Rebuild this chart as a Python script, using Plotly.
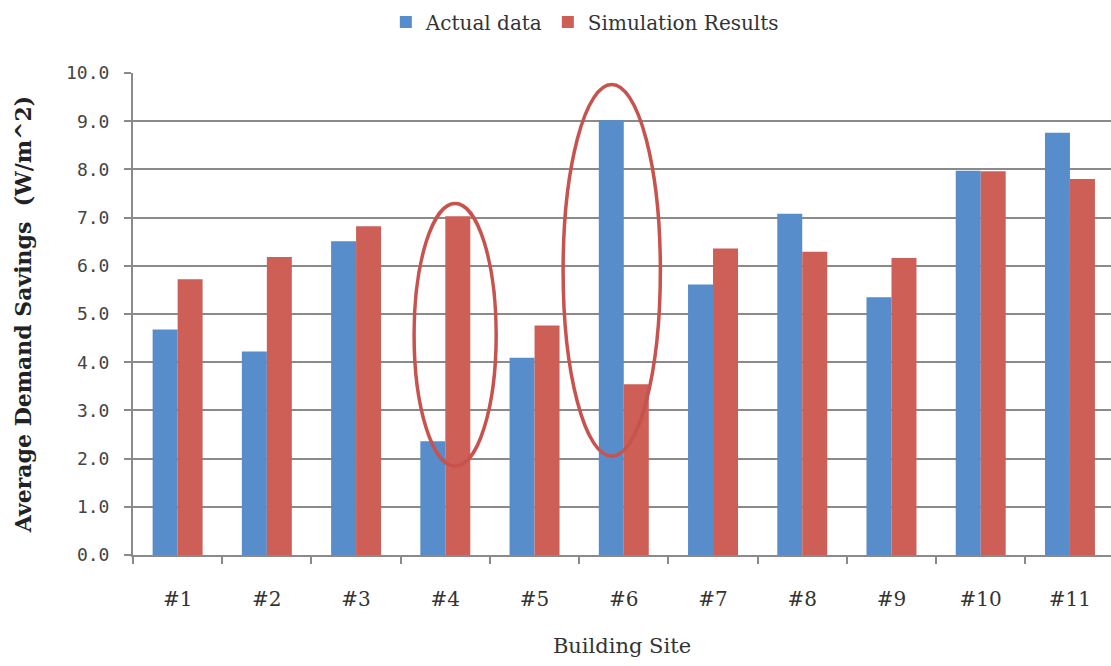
import plotly.graph_objects as go

categories = ["#1", "#2", "#3", "#4", "#5", "#6", "#7", "#8", "#9", "#10", "#11"]
actual_data = [4.68, 4.22, 6.51, 2.36, 4.09, 9.02, 5.61, 7.08, 5.35, 7.97, 8.76]
simulation_results = [5.72, 6.18, 6.82, 7.03, 4.76, 3.54, 6.36, 6.29, 6.16, 7.96, 7.80]
y_ticks = [0, 1, 2, 3, 4, 5, 6, 7, 8, 9, 10]
y_tick_labels = ["0.0", "1.0", "2.0", "3.0", "4.0", "5.0", "6.0", "7.0", "8.0", "9.0", "10.0"]

# highlight ellipses (category-index x extents, value y extents)
ellipse_x0 = [2.65, 4.32]
ellipse_x1 = [3.57, 5.41]
ellipse_y0 = [1.84, 2.05]
ellipse_y1 = [7.29, 9.76]

BLUE = "#578DCB"
RED = "#CD5F57"
ELLIPSE = "#C8524D"
GRID = "#8A8A8A"
SERIF = "DejaVu Serif"

fig = go.Figure()
fig.add_trace(go.Bar(x=categories, y=actual_data, name="Actual data", marker_color=BLUE,
                     marker_line_width=0))
fig.add_trace(go.Bar(x=categories, y=simulation_results, name="Simulation Results",
                     marker_color=RED, marker_line_width=0))

for x0, x1, y0, y1 in zip(ellipse_x0, ellipse_x1, ellipse_y0, ellipse_y1):
    fig.add_shape(type="circle", xref="x", yref="y", x0=x0, x1=x1, y0=y0, y1=y1,
                  line=dict(color=ELLIPSE, width=3.5), fillcolor="rgba(0,0,0,0)", layer="above")

fig.update_layout(
    width=1111, height=666,
    margin=dict(l=133, r=0, t=73, b=111, autoexpand=False),
    paper_bgcolor="white", plot_bgcolor="white",
    barmode="group", bargap=0.44, bargroupgap=0,
    showlegend=True,
    legend=dict(orientation="h", x=0.462, xanchor="center", y=1.106, yanchor="middle",
                font=dict(family=SERIF, size=20, color="#333333"),
                itemwidth=30, tracegroupgap=0),
    font=dict(family=SERIF, color="#333333"),
)

fig.update_xaxes(
    type="category", range=[-0.5, 10.46], automargin=False,
    showline=True, linecolor=GRID, linewidth=2,
    ticks="outside", tickson="boundaries", ticklen=7, tickcolor=GRID, tickwidth=2,
    tickfont=dict(family=SERIF, size=20, color="#333333"),
    ticklabelstandoff=25,
    showgrid=False,
    title=dict(text="Building Site", font=dict(family=SERIF, size=21, color="#333333"), standoff=28),
)

fig.update_yaxes(
    range=[0, 10], tickvals=y_ticks, ticktext=y_tick_labels, automargin=False,
    showline=True, linecolor=GRID, linewidth=2,
    ticks="outside", ticklen=7, tickcolor=GRID, tickwidth=2,
    showgrid=True, gridcolor=GRID, gridwidth=2,
    zeroline=False,
    tickfont=dict(family="DejaVu Sans Mono", size=18, color="#444444"),
    ticklabelstandoff=11,
    title=dict(text="<b>Average Demand Savings  (W/m^2)</b>",
               font=dict(family=SERIF, size=22, color="#222222"), standoff=28),
)

fig.write_html("out.html", config={"displayModeBar": False},
               post_script="document.body.style.margin='0';")
